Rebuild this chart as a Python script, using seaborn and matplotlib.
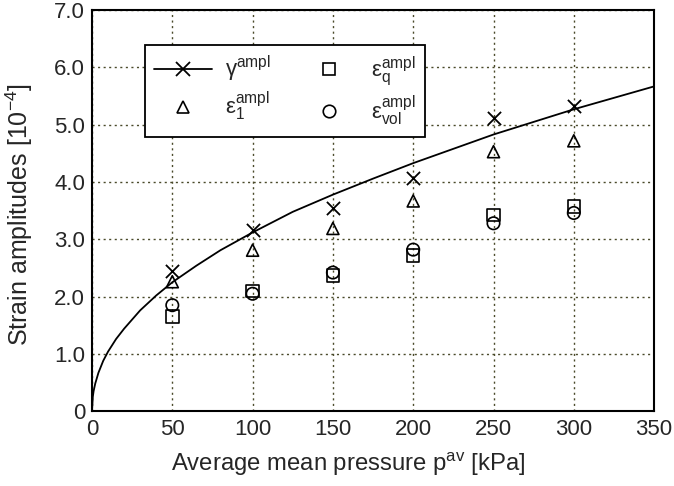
import numpy as np
import pandas as pd
import matplotlib
matplotlib.use("Agg")
import matplotlib.pyplot as plt
import seaborn as sns
from matplotlib.lines import Line2D

# ---- data ----
pressure = [50, 100, 150, 200, 250, 300]
gamma_ampl = [2.45, 3.16, 3.55, 4.07, 5.12, 5.33]
eps1_ampl = [2.26, 2.81, 3.19, 3.67, 4.53, 4.72]
epsq_ampl = [1.65, 2.10, 2.37, 2.72, 3.42, 3.57]
epsvol_ampl = [1.85, 2.05, 2.42, 2.82, 3.28, 3.46]

curve_p = [0, 0.5, 1, 2, 4, 7, 10, 15, 20, 30, 40, 50, 65, 80, 100, 125, 150, 175, 200, 250, 300, 350]
curve_v = [0, 0.25, 0.35, 0.48, 0.67, 0.88, 1.04, 1.26, 1.44, 1.76, 2.02, 2.25, 2.54, 2.81, 3.12,
           3.48, 3.78, 4.06, 4.33, 4.83, 5.27, 5.67]

xticks = [0, 50, 100, 150, 200, 250, 300, 350]
yticks = [0, 1, 2, 3, 4, 5, 6, 7]
yticklabels = ["0", "1.0", "2.0", "3.0", "4.0", "5.0", "6.0", "7.0"]

sns.set_theme(style="white")
plt.rcParams['font.family'] = ['Liberation Sans', 'DejaVu Sans']
plt.rcParams['mathtext.fontset'] = 'custom'
plt.rcParams['mathtext.rm'] = 'Liberation Sans'
plt.rcParams['mathtext.it'] = 'Liberation Sans'
plt.rcParams['mathtext.bf'] = 'Liberation Sans:bold'

fig = plt.figure(figsize=(6.74, 4.86), dpi=100)
ax = fig.add_axes([0.1365, 0.154, 0.834, 0.825])

curve_df = pd.DataFrame({"p": curve_p, "v": curve_v})
sns.lineplot(data=curve_df, x="p", y="v", ax=ax, color="black", lw=1.3, sort=True)

pts = pd.DataFrame({"p": pressure, "g": gamma_ampl, "e1": eps1_ampl, "eq": epsq_ampl, "ev": epsvol_ampl})
sns.scatterplot(data=pts, x="p", y="g", ax=ax, marker="x", s=90, color="black", linewidth=1.3, zorder=5)
sns.scatterplot(data=pts, x="p", y="e1", ax=ax, marker="^", s=75, facecolor="none", edgecolor="black", linewidth=1.2, zorder=5)
sns.scatterplot(data=pts, x="p", y="eq", ax=ax, marker="s", s=80, facecolor="none", edgecolor="black", linewidth=1.2, zorder=5)
sns.scatterplot(data=pts, x="p", y="ev", ax=ax, marker="o", s=80, facecolor="none", edgecolor="black", linewidth=1.2, zorder=5)

ax.set_xlim(0, 350)
ax.set_ylim(0, 7)
ax.set_xticks(xticks)
ax.set_xticklabels([str(t) for t in xticks])
ax.set_yticks(yticks)
ax.set_yticklabels(yticklabels)
ax.tick_params(axis='both', labelsize=16, direction='in', length=4, color='black')
ax.tick_params(axis='x', pad=5.5)
ax.tick_params(axis='y', pad=5)
ax.grid(True, linestyle=(0, (1.5, 2.5)), color='#4a4a2a', linewidth=1.0)
for s in ax.spines.values():
    s.set_color('black')
    s.set_linewidth(1.5)

ax.set_xlabel(r"Average mean pressure p$^{\mathrm{av}}$ [kPa]", fontsize=17.2)
ax.xaxis.set_label_coords(0.455, -0.098)
ax.set_ylabel(r"Strain amplitudes [10$^{\mathrm{-4}}$]", fontsize=18)
ax.yaxis.set_label_coords(-0.101, 0.49)

handles = [
    Line2D([], [], color='black', marker='x', markersize=10, lw=1.3, mew=1.3),
    Line2D([], [], color='black', marker='^', markersize=9, lw=0, mfc='none', mew=1.2),
    Line2D([], [], color='black', marker='s', markersize=9, lw=0, mfc='none', mew=1.2),
    Line2D([], [], color='black', marker='o', markersize=9, lw=0, mfc='none', mew=1.2),
]
labels = [r"γ$^{\mathrm{ampl}}$", r"ε$_{\mathrm{1}}^{\mathrm{ampl}}$",
          r"ε$_{\mathrm{q}}^{\mathrm{ampl}}$", r"ε$_{\mathrm{vol}}^{\mathrm{ampl}}$"]
leg = ax.legend(handles, labels, ncol=2, loc='upper left', bbox_to_anchor=(0.094, 0.913),
                fontsize=16, frameon=True, fancybox=False, edgecolor='black', framealpha=1,
                handlelength=2.6, handletextpad=0.6, columnspacing=1.3, borderpad=0.4,
                labelspacing=0.25, borderaxespad=0)
leg.get_frame().set_linewidth(1.3)

fig.savefig("out.png", dpi=100)
